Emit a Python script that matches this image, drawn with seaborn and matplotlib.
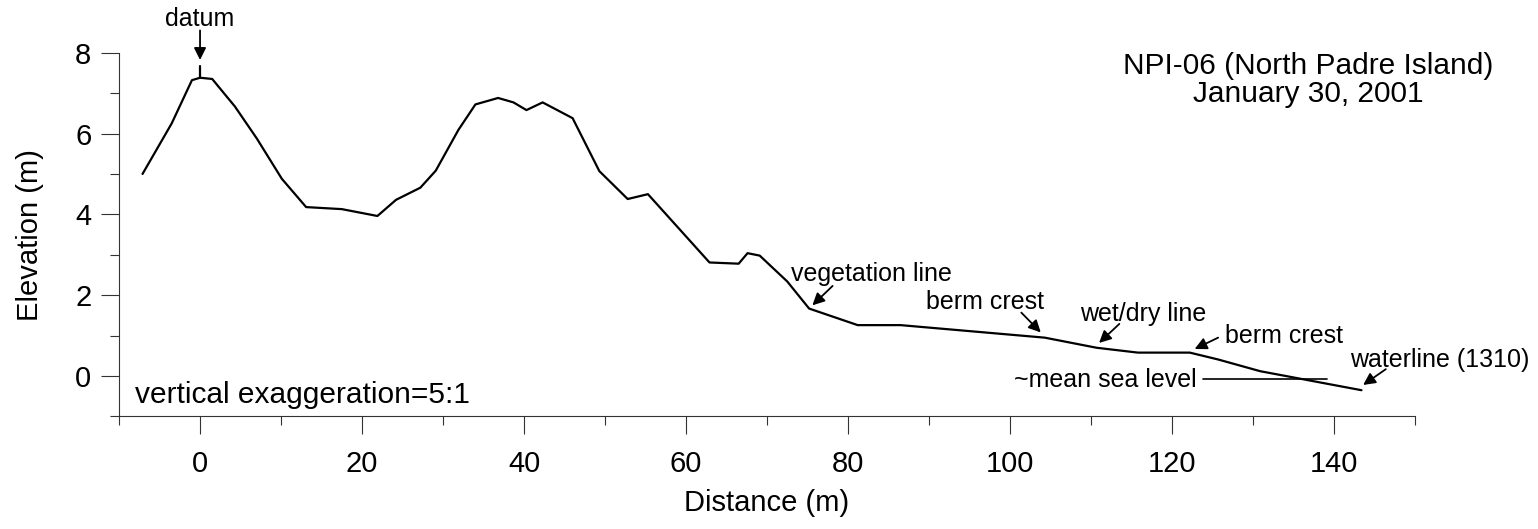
import matplotlib
matplotlib.use("Agg")
import matplotlib.pyplot as plt
import seaborn as sns

# profile NPI-06, distance from datum (m) and elevation (m)
dist = [-7.1, -3.5, -1.0, 0.0, 1.5, 4.3, 7.0, 10.1, 13.1, 17.5, 21.9, 24.2, 27.2, 29.1,
        31.9, 34.0, 36.8, 38.7, 40.3, 42.3, 46.0, 49.3, 52.8, 55.3, 62.9, 66.5, 67.6,
        69.1, 72.5, 75.2, 81.2, 86.5, 104.3, 110.7, 115.8, 122.2, 125.7, 130.9, 143.4]
elev = [5.0, 6.25, 7.32, 7.38, 7.35, 6.67, 5.88, 4.88, 4.18, 4.13, 3.96, 4.36, 4.66, 5.08,
        6.09, 6.72, 6.88, 6.77, 6.58, 6.77, 6.38, 5.07, 4.38, 4.5, 2.81, 2.78, 3.04,
        2.98, 2.34, 1.67, 1.26, 1.26, 0.95, 0.70, 0.58, 0.58, 0.41, 0.12, -0.35]

# feature labels: text, text position, arrow start, arrow tip
labels = ["vegetation line", "berm crest", "wet/dry line", "berm crest", "waterline (1310)"]
label_xy = [(73.0, 2.52), (96.9, 1.83), (116.5, 1.53), (133.8, 1.0), (153.1, 0.40)]
label_ha = ["left", "center", "center", "center", "center"]
arrow_from = [(78.1, 2.23), (101.4, 1.57), (113.5, 1.29), (125.7, 0.95), (146.4, 0.17)]
arrow_to = [(75.6, 1.75), (103.8, 1.08), (111.0, 0.82), (122.8, 0.67), (143.6, -0.22)]

msl_x = [123.8, 139.1]
msl_y = [-0.07, -0.07]

sns.set_style("ticks")
plt.rcParams['font.family'] = ['Liberation Sans', 'DejaVu Sans']
plt.rcParams['text.color'] = 'black'
plt.rcParams['axes.labelcolor'] = 'black'

fig = plt.figure(figsize=(15.38, 5.29), dpi=100)
ax = fig.add_axes([0.0774, 0.2127, 0.8426, 0.6877])

sns.lineplot(x=dist, y=elev, sort=False, color='black', linewidth=1.6, ax=ax)
ax.plot(msl_x, msl_y, color='black', linewidth=1.2)

# datum marker
ax.plot([0, 0], [7.38, 7.67], color='black', linewidth=1.6)
ax.annotate("", xy=(0, 7.82), xytext=(0, 8.55), annotation_clip=False,
            arrowprops=dict(arrowstyle='-|>', color='black', lw=1.3, mutation_scale=18,
                            shrinkA=0, shrinkB=0))
ax.text(0, 8.83, "datum", ha='center', va='center', fontsize=18, clip_on=False)

for t, (tx, ty), ha, a0, a1 in zip(labels, label_xy, label_ha, arrow_from, arrow_to):
    ax.text(tx, ty, t, ha=ha, va='center', fontsize=18)
    ax.annotate("", xy=a1, xytext=a0,
                arrowprops=dict(arrowstyle='-|>', color='black', lw=1.3, mutation_scale=18,
                                shrinkA=0, shrinkB=0))

ax.text(123.0, -0.1, "~mean sea level", ha='right', va='center', fontsize=18)
ax.text(-8.0, -0.47, "vertical exaggeration=5:1", ha='left', va='center', fontsize=21.5)

ax.text(136.8, 7.66, "NPI-06 (North Padre Island)", ha='center', va='center', fontsize=21.5)
ax.text(136.8, 6.99, "January 30, 2001", ha='center', va='center', fontsize=21.5)

ax.set_xlim(-10, 150)
ax.set_ylim(-1, 8)
ax.set_xticks(range(0, 141, 20))
ax.set_xticks(range(-10, 151, 10), minor=True)
ax.set_yticks(range(0, 9, 2))
ax.set_yticks(range(-1, 9, 1), minor=True)
ax.tick_params(axis='both', which='major', length=13, width=0.8, labelsize=21,
               color='#333333', labelcolor='black')
ax.tick_params(axis='both', which='minor', length=6.5, width=0.8, color='#333333')
ax.tick_params(axis='x', which='major', pad=11)
ax.tick_params(axis='y', which='major', pad=7)

ax.set_xlabel("Distance (m)", fontsize=21, labelpad=8)
ax.set_ylabel("Elevation (m)", fontsize=21, labelpad=22)

sns.despine(ax=ax)
for s in ['left', 'bottom']:
    ax.spines[s].set_linewidth(0.8)
    ax.spines[s].set_color('#333333')

fig.savefig("out.png", dpi=100)
